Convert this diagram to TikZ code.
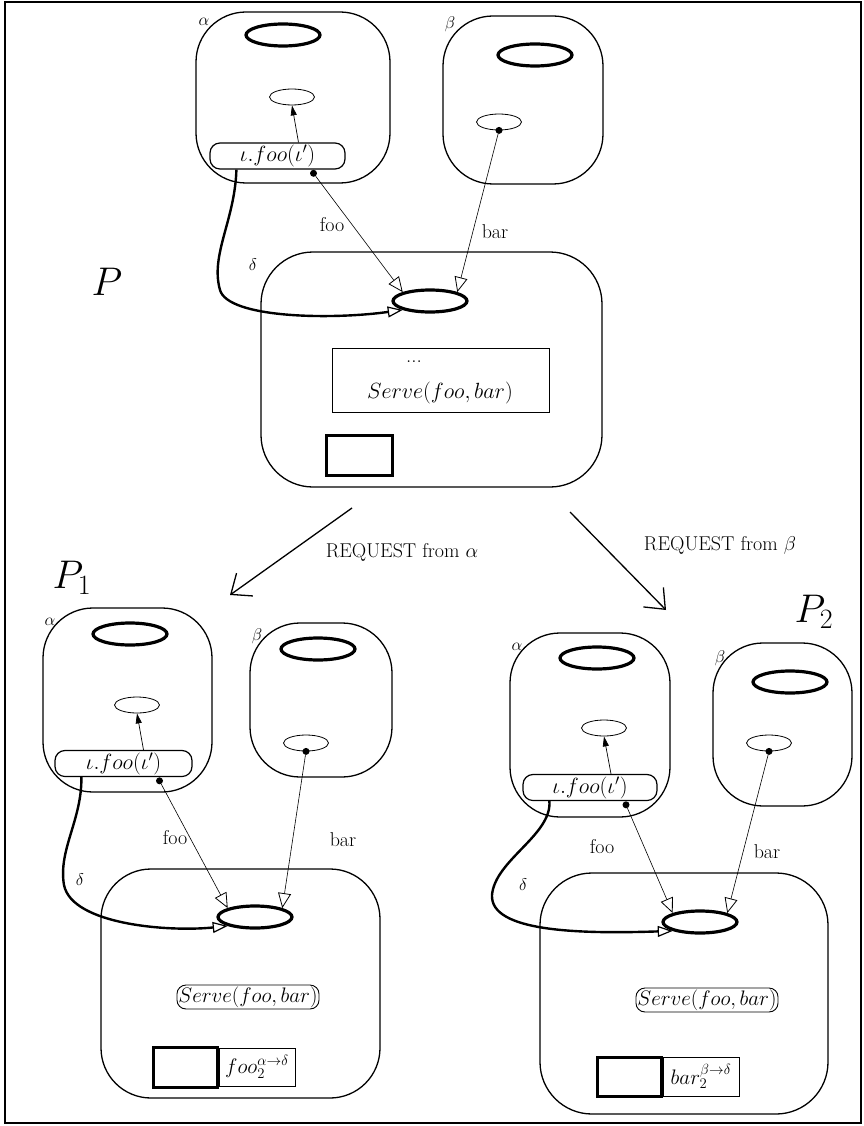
\RequirePackage{fix-cm}
\documentclass[tikz,border=0pt]{standalone}
\usetikzlibrary{arrows.meta,shapes.geometric,positioning}
\newcommand\fsz[1]{\fontsize{#1}{#1}\selectfont}
\tikzset{
  agent/.style={draw, line width=1.3pt, rounded corners=50pt, inner sep=0pt},
  port/.style={draw, ellipse, line width=3.2pt, minimum width=74pt, minimum height=22pt, inner sep=0pt},
  slot/.style={draw, ellipse, line width=0.8pt, minimum width=45pt, minimum height=16pt, inner sep=0pt},
  call/.style={draw, line width=1.2pt, rounded corners=10pt, inner sep=2pt, minimum height=22pt, font=\fsz{22}},
  serve/.style={draw, line width=0.9pt, rounded corners=9pt, inner sep=1.5pt, font=\fsz{21}},
  dot/.style={circle, fill, inner sep=0pt, minimum size=7pt},
  buf/.style={draw, line width=3pt, inner sep=0pt},
  msgbox/.style={draw, line width=0.9pt, inner sep=1pt, font=\fsz{21}},
  glab/.style={font=\fsz{17}},
  wlab/.style={font=\fsz{20}},
  plab/.style={font=\fsz{40}},
  msg/.style={-{Triangle[open,length=15pt,width=13pt,line width=0.8pt]}, line width=0.6pt},
  fwd/.style={-{Triangle[open,length=15pt,width=11pt,line width=1.2pt]}, line width=2.4pt},
  loc/.style={-{Triangle[length=10pt,width=6pt]}, line width=0.7pt},
  reqarrow/.style={-{Straight Barb[length=17pt,width=28pt]}, line width=1.3pt}
}
\begin{document}
\begin{tikzpicture}[x=1pt,y=-1pt]
\useasboundingbox (0,0) rectangle (863,1126);
\draw[line width=1.4pt] (5,2) rectangle (861,1123);

% P
\node[plab] (pT) at (107,282) {$P$};
\node[agent, minimum width=194pt, minimum height=171pt] (aT) at (293,97.5) {};
\node[agent, minimum width=160pt, minimum height=168pt] (bT) at (523,100) {};
\node[agent, rounded corners=52pt, minimum width=341pt, minimum height=235pt] (dT) at (431.5,369.5) {};
\node[glab] (laT) at (204,22) {$\alpha$};
\node[glab] (lbT) at (450,24) {$\beta$};
\node[glab] (ldT) at (253,265) {$\delta$};
\node[port] (paT) at (283,35) {};
\node[slot] (saT) at (292,97) {};
\node[call, minimum width=135pt] (iT) at (277.5,156) {$\iota.foo(\iota')$};
\node[dot, anchor=north] (fT) at ([xshift=36pt]iT.south) {};
\node[port] (pbT) at (535,55) {};
\node[slot] (sbT) at (499,122) {};
\node[dot] (gT) at (sbT.south) {};
\node[port] (pdT) at (430,301) {};
\node[draw, line width=1pt, minimum width=217pt, minimum height=64pt] (srvT) at (440.5,380) {};
\node[font=\fsz{21}] (dotsT) at (414,362) {...};
\node[font=\fsz{22}] (txtT) at (440,393) {$Serve(foo,bar)$};
\node[buf, minimum width=66pt, minimum height=40pt] (bxT) at (359,455) {};
\draw[loc] ([xshift=21pt]iT.north) -- (saT.south);
\draw[msg] (fT) -- (pdT.north west);
\draw[msg] (gT) -- (pdT.north east);
\draw[fwd] ([xshift=27pt]iT.south west) .. controls (235,220) and (210,255) .. (220,290)
  .. controls (228,318) and (330,320) .. (pdT.south west);
\node[wlab] (fooT) at (332,225) {foo};
\node[wlab] (barT) at (495,232) {bar};

% steps
\coordinate (r1s) at (352,508);
\coordinate (r1e) at (230,595);
\coordinate (r2s) at (570,512);
\coordinate (r2e) at (666,610);
\draw[reqarrow] (r1s) -- (r1e);
\draw[reqarrow] (r2s) -- (r2e);
\node[wlab] (rq1) at (402,552) {REQUEST from $\alpha$};
\node[wlab] (rq2) at (720,545) {REQUEST from $\beta$};

% P1
\node[plab] (p1) at (72,578) {$P_1$};
\node[agent, minimum width=169pt, minimum height=184pt] (a1) at (127.5,700) {};
\node[agent, minimum width=142pt, minimum height=154pt] (b1) at (321,700) {};
\node[agent, rounded corners=50pt, minimum width=279pt, minimum height=229pt] (d1) at (240.5,983.5) {};
\node[glab] (la1) at (50,622) {$\alpha$};
\node[glab] (lb1) at (257,636) {$\beta$};
\node[glab] (ld1) at (80,880) {$\delta$};
\node[port] (pa1) at (130,634) {};
\node[slot] (sa1) at (137,705) {};
\node[call, minimum width=137pt] (i1) at (123.5,763.5) {$\iota.foo(\iota')$};
\node[dot, anchor=north] (f1) at ([xshift=36pt]i1.south) {};
\node[port] (pb1) at (318,649) {};
\node[slot] (sb1) at (306,743) {};
\node[dot] (g1) at (sb1.south) {};
\node[port] (pd1) at (255,917) {};
\node[serve] (srv1) at (248,997) {$Serve(foo,bar)$};
\node[buf, minimum width=64pt, minimum height=40pt] (bx1) at (185,1067) {};
\node[msgbox, anchor=west, minimum width=76pt, minimum height=38pt] (m1) at (bx1.east) {$foo_2^{\alpha\rightarrow\delta}$};
\draw[loc] ([xshift=20pt]i1.north) -- (sa1.south);
\draw[msg] (f1) -- (pd1.north west);
\draw[msg] (g1) -- (pd1.north east);
\draw[fwd] ([xshift=27pt]i1.south west) .. controls (82,820) and (58,850) .. (64,885)
  .. controls (72,925) and (170,932) .. (pd1.south west);
\node[wlab] (foo1) at (175,838) {foo};
\node[wlab] (bar1) at (343,840) {bar};

% P2
\node[plab] (p2) at (814,612) {$P_2$};
\node[agent, minimum width=160pt, minimum height=184pt] (a2) at (590,725) {};
\node[agent, minimum width=139pt, minimum height=163pt] (b2) at (782.5,724.5) {};
\node[agent, rounded corners=52pt, minimum width=288pt, minimum height=241pt] (d2) at (684,993.5) {};
\node[glab] (la2) at (517,647) {$\alpha$};
\node[glab] (lb2) at (720,658) {$\beta$};
\node[glab] (ld2) at (523,885) {$\delta$};
\node[port] (pa2) at (597,658) {};
\node[slot] (sa2) at (604,728) {};
\node[call, minimum width=134pt] (i2) at (590,787.5) {$\iota.foo(\iota')$};
\node[dot, anchor=north] (f2) at ([xshift=36pt]i2.south) {};
\node[port] (pb2) at (790,682) {};
\node[slot] (sb2) at (769,743) {};
\node[dot] (g2) at (sb2.south) {};
\node[port] (pd2) at (700,922) {};
\node[serve] (srv2) at (707,1000) {$Serve(foo,bar)$};
\node[buf, minimum width=64pt, minimum height=39pt] (bx2) at (629,1076.5) {};
\node[msgbox, anchor=west, minimum width=76pt, minimum height=39pt] (m2) at (bx2.east) {$bar_2^{\beta\rightarrow\delta}$};
\draw[loc] ([xshift=21pt]i2.north) -- (sa2.south);
\draw[msg] (f2) -- (pd2.north west);
\draw[msg] (g2) -- (pd2.north east);
\draw[fwd] ([xshift=27pt]i2.south west) .. controls (552,835) and (495,860) .. (492,895)
  .. controls (490,932) and (580,934) .. (pd2.south west);
\node[wlab] (foo2) at (602,847) {foo};
\node[wlab] (bar2) at (767,852) {bar};
\end{tikzpicture}
\end{document}
